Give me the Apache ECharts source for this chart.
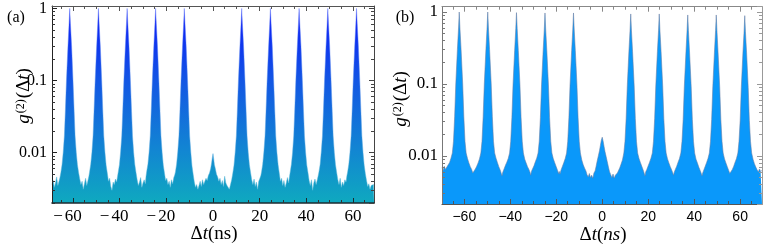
<!DOCTYPE html>
<html><head><meta charset="utf-8">
<script src="https://cdn.jsdelivr.net/npm/echarts@6/dist/echarts.min.js"></script>
<style>html,body{margin:0;padding:0;background:#fff}#c{width:763px;height:249px}</style>
</head><body><div id="c"></div><script>
// ---- data ----
const xMajorTicks = [-60, -40, -20, 0, 20, 40, 60];
const xMinorTicks = [-65, -55, -50, -45, -35, -30, -25, -15, -10, -5, 5, 10, 15, 25, 30, 35, 45, 50, 55, 65];
const yMinorTicks = [0.002, 0.003, 0.004, 0.005, 0.006, 0.007, 0.008, 0.009,
  0.02, 0.03, 0.04, 0.05, 0.06, 0.07, 0.08, 0.09,
  0.2, 0.3, 0.4, 0.5, 0.6, 0.7, 0.8, 0.9];
const rangeA = [-69, 69];
const rangeB = [-69.7, 69.5];
const yRangeA = [0.002, 1.08];
const yRangeB = [0.00215, 1.185];

// panel (a): [delta t (ns), g2]
const pointsA = [
[-69.0,0.0036],[-68.5,0.0041],[-68.0,0.0033],[-67.5,0.0038],[-67.0,0.0046],[-66.5,0.0035],[-66.0,0.0040],[-65.6,0.0045],
[-65.2,0.0053],[-64.7,0.0068],[-64.2,0.010],[-63.7,0.017],[-63.3,0.036],[-62.8,0.1],[-62.2,0.28],[-61.7,0.6],[-61.4,1.0],[-61.1,0.62],[-60.6,0.3],[-60.0,0.1],[-59.5,0.037],[-59.1,0.017],[-58.6,0.010],[-58.1,0.0068],[-57.6,0.0053],
[-57.1,0.0043],[-56.6,0.0036],[-56.1,0.0040],[-55.6,0.0031],[-55.1,0.0037],[-54.6,0.0044],[-54.1,0.0035],[-53.6,0.0041],[-53.2,0.0047],
[-52.9,0.0054],[-52.4,0.0069],[-51.9,0.010],[-51.4,0.017],[-51.0,0.037],[-50.5,0.1],[-49.9,0.28],[-49.4,0.6],[-49.1,1.0],[-48.8,0.62],[-48.3,0.3],[-47.7,0.1],[-47.2,0.036],[-46.8,0.017],[-46.3,0.010],[-45.8,0.0067],[-45.3,0.0052],
[-44.8,0.0040],[-44.3,0.0044],[-43.8,0.0034],[-43.3,0.0030],[-42.8,0.0039],[-42.3,0.0036],[-41.8,0.0043],[-41.3,0.0039],[-40.9,0.0047],
[-40.6,0.0054],[-40.1,0.0068],[-39.6,0.0102],[-39.1,0.017],[-38.7,0.036],[-38.2,0.1],[-37.6,0.28],[-37.1,0.6],[-36.8,1.0],[-36.5,0.62],[-36.0,0.3],[-35.4,0.1],[-34.9,0.037],[-34.5,0.017],[-34.0,0.010],[-33.5,0.0068],[-33.0,0.0053],
[-32.5,0.0042],[-32.0,0.0035],[-31.5,0.0039],[-31.0,0.0045],[-30.5,0.0033],[-30.0,0.0038],[-29.5,0.0042],[-29.0,0.0037],[-28.7,0.0047],
[-28.4,0.0055],[-27.9,0.0069],[-27.4,0.010],[-26.9,0.017],[-26.5,0.036],[-26.0,0.1],[-25.4,0.28],[-24.9,0.6],[-24.6,1.0],[-24.3,0.62],[-23.8,0.3],[-23.2,0.1],[-22.7,0.037],[-22.3,0.017],[-21.8,0.010],[-21.3,0.0067],[-20.8,0.0052],
[-20.3,0.0041],[-19.8,0.0044],[-19.3,0.0036],[-18.8,0.0040],[-18.3,0.0033],[-17.8,0.0042],[-17.3,0.0037],[-16.8,0.0045],[-16.4,0.0049],
[-16.1,0.0054],[-15.6,0.0069],[-15.1,0.0102],[-14.6,0.017],[-14.2,0.036],[-13.7,0.1],[-13.1,0.28],[-12.6,0.6],[-12.3,1.0],[-12.0,0.62],[-11.5,0.3],[-10.9,0.1],[-10.4,0.037],[-10.0,0.017],[-9.5,0.010],[-9.0,0.0065],[-8.5,0.0050],
[-8.0,0.0039],[-7.5,0.0033],[-7.0,0.0036],[-6.5,0.0031],[-6.0,0.0035],[-5.5,0.0040],[-5.0,0.0034],[-4.5,0.0042],[-4.0,0.0036],[-3.5,0.0040],[-3.0,0.0044],[-2.5,0.0041],[-2.0,0.0048],[-1.5,0.0052],[-1.0,0.0060],[-0.6,0.0072],[-0.3,0.0085],[0.0,0.0097],[0.3,0.0082],[0.6,0.0068],[1.0,0.0060],[1.5,0.0050],[2.0,0.0046],[2.5,0.0040],[3.0,0.0044],[3.5,0.0036],[4.0,0.0041],[4.5,0.0034],[5.0,0.0047],[5.5,0.0038],[6.0,0.0035],[6.5,0.0033],[7.0,0.0031],[7.5,0.0036],[8.0,0.0042],
[8.5,0.0052],[9.0,0.0067],[9.5,0.010],[10.0,0.017],[10.4,0.036],[10.9,0.1],[11.5,0.28],[12.0,0.6],[12.3,1.0],[12.6,0.62],[13.1,0.3],[13.7,0.1],[14.2,0.037],[14.6,0.017],[15.1,0.010],[15.6,0.0068],[16.1,0.0053],
[16.6,0.0042],[17.1,0.0036],[17.6,0.0043],[18.1,0.0034],[18.6,0.0039],[19.1,0.0031],[19.6,0.0040],[20.1,0.0044],[20.5,0.0048],
[20.8,0.0054],[21.3,0.0069],[21.8,0.0102],[22.3,0.017],[22.7,0.036],[23.2,0.1],[23.8,0.28],[24.3,0.6],[24.6,1.0],[24.9,0.62],[25.4,0.3],[26.0,0.1],[26.5,0.037],[26.9,0.017],[27.4,0.010],[27.9,0.0068],[28.4,0.0052],
[28.9,0.0040],[29.4,0.0044],[29.9,0.0035],[30.4,0.0041],[30.9,0.0033],[31.4,0.0038],[31.9,0.0045],[32.4,0.0038],[32.8,0.0047],
[33.1,0.0054],[33.6,0.0069],[34.1,0.010],[34.6,0.017],[35.0,0.036],[35.5,0.1],[36.1,0.28],[36.6,0.6],[36.9,1.0],[37.2,0.62],[37.7,0.3],[38.3,0.1],[38.8,0.037],[39.2,0.017],[39.7,0.010],[40.2,0.0067],[40.7,0.0053],
[41.2,0.0041],[41.7,0.0035],[42.2,0.0042],[42.7,0.0030],[43.2,0.0038],[43.7,0.0043],[44.2,0.0036],[44.7,0.0042],[45.1,0.0048],
[45.4,0.0054],[45.9,0.0068],[46.4,0.0102],[46.9,0.017],[47.3,0.036],[47.8,0.1],[48.4,0.28],[48.9,0.6],[49.2,1.0],[49.5,0.62],[50.0,0.3],[50.6,0.1],[51.1,0.037],[51.5,0.017],[52.0,0.010],[52.5,0.0068],[53.0,0.0053],
[53.5,0.0042],[54.0,0.0036],[54.5,0.0044],[55.0,0.0033],[55.5,0.0039],[56.0,0.0035],[56.5,0.0042],[57.0,0.0039],[57.4,0.0048],
[57.7,0.0054],[58.2,0.0069],[58.7,0.010],[59.2,0.017],[59.6,0.036],[60.1,0.1],[60.7,0.28],[61.2,0.6],[61.5,1.0],[61.8,0.62],[62.3,0.3],[62.9,0.1],[63.4,0.037],[63.8,0.017],[64.3,0.010],[64.8,0.0067],[65.3,0.0051],
[65.8,0.0041],[66.3,0.0034],[66.8,0.0037],[67.3,0.0031],[67.8,0.0035],[68.3,0.0033],[68.8,0.0036],[69.0,0.0034]
];

// panel (b): [delta t (ns), g2]
const pointsB = [
[-69.7,0.0069],[-69.2,0.0063],[-68.7,0.0072],[-68.2,0.0065],[-67.6,0.0070],
[-67.0,0.0073],[-66.4,0.0081],[-65.8,0.0093],[-65.2,0.011],[-64.7,0.016],[-64.2,0.035],[-63.7,0.1],[-63.0,0.3],[-62.5,0.6],[-62.2,1.0],[-61.9,0.6],[-61.4,0.3],[-60.7,0.1],[-60.2,0.035],[-59.7,0.016],[-59.2,0.011],[-58.6,0.0092],[-58.0,0.0080],[-57.4,0.0071],[-56.8,0.0065],
[-56.3,0.0058],[-56.0,0.0055],[-55.7,0.0060],
[-55.2,0.0066],[-54.6,0.0072],[-54.0,0.0080],[-53.4,0.0091],[-52.8,0.011],[-52.3,0.016],[-51.8,0.035],[-51.3,0.1],[-50.6,0.3],[-50.1,0.6],[-49.8,1.0],[-49.5,0.6],[-49.0,0.3],[-48.3,0.1],[-47.8,0.035],[-47.3,0.016],[-46.8,0.011],[-46.2,0.0093],[-45.6,0.0081],[-45.0,0.0071],[-44.4,0.0064],
[-43.9,0.0057],[-43.6,0.0053],[-43.3,0.0059],
[-42.7,0.0066],[-42.1,0.0074],[-41.5,0.0082],[-40.9,0.0092],[-40.3,0.011],[-39.8,0.016],[-39.3,0.034],[-38.8,0.098],[-38.1,0.29],[-37.6,0.59],[-37.3,0.98],[-37.0,0.59],[-36.5,0.29],[-35.8,0.098],[-35.3,0.034],[-34.8,0.016],[-34.3,0.011],[-33.7,0.0090],[-33.1,0.0080],[-32.5,0.0071],[-31.9,0.0065],
[-31.4,0.0059],[-31.1,0.0054],[-30.8,0.0061],
[-30.3,0.0065],[-29.7,0.0073],[-29.1,0.0083],[-28.5,0.0093],[-27.9,0.011],[-27.4,0.016],[-26.9,0.034],[-26.4,0.097],[-25.7,0.29],[-25.2,0.58],[-24.9,0.97],[-24.6,0.58],[-24.1,0.29],[-23.4,0.097],[-22.9,0.034],[-22.4,0.016],[-21.9,0.011],[-21.3,0.0092],[-20.7,0.0081],[-20.1,0.0072],[-19.5,0.0064],
[-19.0,0.0057],[-18.7,0.0061],[-18.4,0.0056],
[-17.9,0.0064],[-17.3,0.0072],[-16.7,0.0081],[-16.1,0.0092],[-15.5,0.011],[-15.0,0.016],[-14.5,0.034],[-14.0,0.097],[-13.3,0.29],[-12.8,0.58],[-12.5,0.97],[-12.2,0.58],[-11.7,0.29],[-11.0,0.097],[-10.5,0.034],[-10.0,0.016],[-9.5,0.011],[-8.9,0.0088],[-8.3,0.0076],[-7.7,0.0068],[-7.1,0.0062],
[-6.6,0.0055],[-6.1,0.0051],[-5.6,0.0057],[-5.1,0.0050],[-4.6,0.0054],[-4.1,0.0049],[-3.6,0.0058],[-3.1,0.0062],[-2.7,0.0071],[-2.2,0.0085],[-1.7,0.0100],[-1.2,0.0118],[-0.8,0.0140],[-0.4,0.0165],[0.0,0.0182],[0.4,0.0160],[0.8,0.0135],[1.2,0.0115],[1.7,0.0098],[2.2,0.0083],[2.7,0.0070],[3.2,0.0060],[3.7,0.0055],[4.2,0.0050],[4.7,0.0056],[5.2,0.0049],[5.7,0.0054],[6.2,0.0052],[6.6,0.0058],
[7.0,0.0062],[7.6,0.0068],[8.2,0.0077],[8.8,0.0088],[9.4,0.011],[9.9,0.016],[10.4,0.033],[10.9,0.094],[11.6,0.28],[12.1,0.56],[12.4,0.94],[12.7,0.56],[13.2,0.28],[13.9,0.094],[14.4,0.033],[14.9,0.016],[15.4,0.011],[16.0,0.0092],[16.6,0.0081],[17.2,0.0072],[17.8,0.0064],
[18.3,0.0057],[18.6,0.0053],[18.9,0.0060],
[19.4,0.0065],[20.0,0.0073],[20.6,0.0082],[21.2,0.0093],[21.8,0.011],[22.3,0.016],[22.8,0.033],[23.3,0.094],[24.0,0.28],[24.5,0.56],[24.8,0.94],[25.1,0.56],[25.6,0.28],[26.3,0.094],[26.8,0.033],[27.3,0.016],[27.8,0.011],[28.4,0.0091],[29.0,0.0080],[29.6,0.0071],[30.2,0.0064],
[30.7,0.0058],[31.0,0.0054],[31.3,0.0059],
[31.8,0.0065],[32.4,0.0072],[33.0,0.0082],[33.6,0.0092],[34.2,0.011],[34.7,0.016],[35.2,0.032],[35.7,0.091],[36.4,0.27],[36.9,0.55],[37.2,0.91],[37.5,0.55],[38.0,0.27],[38.7,0.091],[39.2,0.032],[39.7,0.016],[40.2,0.011],[40.8,0.0090],[41.4,0.0080],[42.0,0.0070],[42.6,0.0063],
[43.1,0.0057],[43.4,0.0053],[43.7,0.0058],
[44.2,0.0064],[44.8,0.0072],[45.4,0.0081],[46.0,0.0092],[46.6,0.011],[47.1,0.016],[47.6,0.032],[48.1,0.091],[48.8,0.27],[49.3,0.55],[49.6,0.91],[49.9,0.55],[50.4,0.27],[51.1,0.091],[51.6,0.032],[52.1,0.016],[52.6,0.011],[53.2,0.0091],[53.8,0.0080],[54.4,0.0071],[55.0,0.0063],
[55.5,0.0057],[55.8,0.0054],[56.1,0.0059],
[56.6,0.0065],[57.2,0.0072],[57.8,0.0082],[58.4,0.0092],[59.0,0.011],[59.5,0.016],[60.0,0.031],[60.5,0.089],[61.2,0.27],[61.7,0.53],[62.0,0.89],[62.3,0.53],[62.8,0.27],[63.5,0.089],[64.0,0.031],[64.5,0.016],[65.0,0.011],[65.6,0.0090],[66.2,0.0078],[66.8,0.0070],[67.4,0.0064],
[67.9,0.0060],[68.4,0.0066],[68.9,0.0061],[69.5,0.0063]
];

// ---- chart ----
const SERIF = '"Liberation Serif", "DejaVu Serif", serif';
const SANS = '"Liberation Sans", Arial, sans-serif';
// (a): minus sign hangs left of the centred digits
const fmtXA = v => (v < 0 ? '{m|\u2212}{d|' + (-v) + '}{p|}' : '{d|' + v + '}');
const fmtXB = v => (v < 0 ? '\u2212' + (-v) : String(v));
const fmtY = v => String(+Number(v).toPrecision(3));

const gridA = { left: 52, top: 6, width: 322, height: 197 };
const gridB = { left: 442, top: 6.7, width: 320, height: 197.3 };

function mainX(gi, pos, range, color, lw, labels, labFont, labSize, margin, fmt, rich) {
  return {
    type: 'value', gridIndex: gi, position: pos, min: range[0], max: range[1], z: 5,
    axisLine: { show: true, onZero: false, lineStyle: { color: color, width: lw } },
    axisTick: { show: true, inside: true, length: 5, customValues: xMajorTicks, lineStyle: { color: color } },
    axisLabel: { show: labels, customValues: xMajorTicks, formatter: fmt, margin: margin,
      fontFamily: labFont, fontSize: labSize, color: '#000', rich: rich },
    splitLine: { show: false }
  };
}
function minorX(gi, pos, range, color) {
  return {
    type: 'value', gridIndex: gi, position: pos, min: range[0], max: range[1], z: 5,
    axisLine: { show: false, onZero: false },
    axisTick: { show: true, inside: true, length: 3, customValues: xMinorTicks, lineStyle: { color: color } },
    axisLabel: { show: false }, splitLine: { show: false }
  };
}
function mainY(gi, pos, yr, color, lw, labels, margin, size) {
  return {
    type: 'log', logBase: 10, gridIndex: gi, position: pos, min: yr[0], max: yr[1], z: 5,
    axisLine: { show: true, onZero: false, lineStyle: { color: color, width: lw } },
    axisTick: { show: true, inside: true, length: 5, lineStyle: { color: color } },
    axisLabel: { show: labels, showMinLabel: false, showMaxLabel: false, formatter: fmtY, margin: margin,
      fontFamily: SERIF, fontSize: size, color: '#000' },
    minorTick: { show: false }, splitLine: { show: false }
  };
}
function minorY(gi, pos, yr, color) {
  return {
    type: 'value', gridIndex: gi, position: pos, min: Math.log10(yr[0]), max: Math.log10(yr[1]), z: 5,
    axisLine: { show: false, onZero: false },
    axisTick: { show: true, inside: true, length: 3, customValues: yMinorTicks.map(Math.log10), lineStyle: { color: color } },
    axisLabel: { show: false }, splitLine: { show: false }
  };
}

const richA = {
  m: { fontFamily: SERIF, fontSize: 17, padding: [0, 2, 0, 0] },
  d: { fontFamily: SERIF, fontSize: 17 },
  p: { width: 11 }
};

const gradA = { type: 'linear', x: 0, y: 0, x2: 0, y2: 1, colorStops: [
  { offset: 0, color: '#0a16f8' }, { offset: 0.37, color: '#1356e4' },
  { offset: 0.73, color: '#1286d2' }, { offset: 1, color: '#0fa9bf' } ] };
const gradALine = { type: 'linear', x: 0, y: 0, x2: 0, y2: 1, colorStops: [
  { offset: 0, color: 'rgba(90,110,250,0.55)' }, { offset: 0.5, color: 'rgba(90,150,230,0.55)' },
  { offset: 1, color: 'rgba(90,190,215,0.6)' } ] };

const yNameRich = {
  i: { fontFamily: SERIF, fontSize: 19, fontStyle: 'italic', verticalAlign: 'bottom' },
  n: { fontFamily: SERIF, fontSize: 19, verticalAlign: 'bottom' },
  s: { fontFamily: SERIF, fontSize: 12, verticalAlign: 'top', padding: [0, 1, 0, 1] }
};
const centred = { align: 'center', verticalAlign: 'middle', textAlign: 'center', textVerticalAlign: 'middle' };

const chart = echarts.init(document.getElementById('c'), null, { renderer: 'canvas' });
chart.setOption({
  animation: false,
  backgroundColor: '#fff',
  grid: [
    Object.assign({ containLabel: false }, gridA),
    Object.assign({ containLabel: false }, gridA),
    Object.assign({ containLabel: false }, gridB),
    Object.assign({ containLabel: false }, gridB)
  ],
  xAxis: [
    mainX(0, 'bottom', rangeA, '#1d2b30', 1.6, true, SERIF, 17, 5, fmtXA, richA),
    mainX(0, 'top', rangeA, '#555', 1, false, SERIF, 17, 5, fmtXA, richA),
    minorX(1, 'bottom', rangeA, '#333'),
    minorX(1, 'top', rangeA, '#555'),
    mainX(2, 'bottom', rangeB, '#555', 1.2, true, SANS, 14, 6, fmtXB, undefined),
    mainX(2, 'top', rangeB, '#888', 1, false, SANS, 14, 6, fmtXB, undefined),
    minorX(3, 'bottom', rangeB, '#555'),
    minorX(3, 'top', rangeB, '#888')
  ],
  yAxis: [
    mainY(0, 'left', yRangeA, '#222', 1, true, 5, 16),
    mainY(0, 'right', yRangeA, '#444', 1, false, 5, 16),
    minorY(1, 'left', yRangeA, '#333'),
    minorY(1, 'right', yRangeA, '#444'),
    mainY(2, 'left', yRangeB, '#777', 1, true, 4, 17),
    mainY(2, 'right', yRangeB, '#999', 1, false, 4, 17),
    minorY(3, 'left', yRangeB, '#777'),
    minorY(3, 'right', yRangeB, '#999')
  ],
  series: [
    { type: 'line', xAxisIndex: 0, yAxisIndex: 0, data: pointsA, symbol: 'none', showSymbol: false,
      lineStyle: { width: 0.8, color: gradALine }, areaStyle: { origin: 'start', color: gradA, opacity: 1 }, z: 2 },
    { type: 'line', xAxisIndex: 4, yAxisIndex: 4, data: pointsB, symbol: 'none', showSymbol: false,
      lineStyle: { width: 0.8, color: 'rgba(100,125,165,0.7)' }, areaStyle: { origin: 'start', color: '#0a98fa', opacity: 1 }, z: 2 }
  ],
  graphic: [
    { type: 'text', x: 16, y: 18, style: Object.assign({ text: '(a)', font: '16px ' + SERIF, fill: '#000' }, centred) },
    { type: 'text', x: 405, y: 18, style: Object.assign({ text: '(b)', font: '16px ' + SERIF, fill: '#000' }, centred) },
    { type: 'text', x: 24, y: 96, rotation: Math.PI / 2,
      style: Object.assign({ text: '{i|g}{s|(2)}{n|(Δ}{i|t}{n|)}', fill: '#000', font: '19px ' + SERIF, rich: yNameRich }, centred) },
    { type: 'text', x: 401, y: 99, rotation: Math.PI / 2,
      style: Object.assign({ text: '{i|g}{s|(2)}{n|(Δ}{i|t}{n|)}', fill: '#000', font: '19px ' + SERIF, rich: yNameRich }, centred) },
    { type: 'text', x: 214, y: 234,
      style: Object.assign({ text: '{n|Δ}{i|t}{n|(ns)}', fill: '#000', font: '19px ' + SERIF,
        rich: { i: { fontFamily: SERIF, fontSize: 19, fontStyle: 'italic' }, n: { fontFamily: SERIF, fontSize: 19 } } }, centred) },
    { type: 'text', x: 603, y: 235,
      style: Object.assign({ text: '{n|Δ}{i|t}{n|(}{i|ns}{n|)}', fill: '#000', font: '19px ' + SERIF,
        rich: { i: { fontFamily: SERIF, fontSize: 19, fontStyle: 'italic' }, n: { fontFamily: SERIF, fontSize: 19 } } }, centred) }
  ]
});
</script></body></html>
